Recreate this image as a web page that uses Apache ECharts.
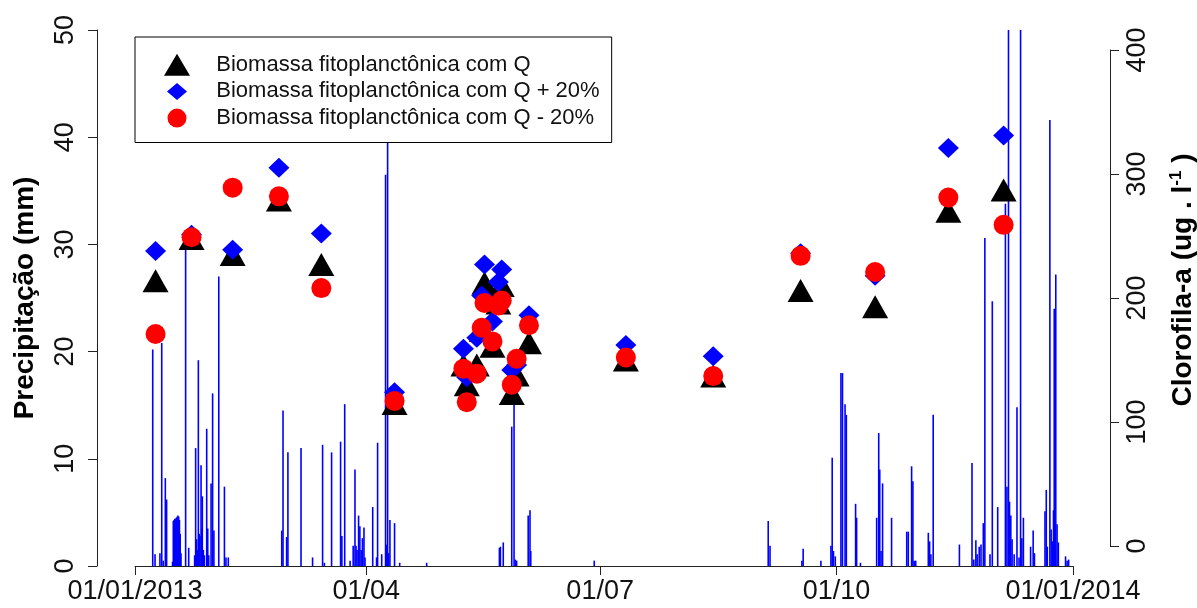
<!DOCTYPE html>
<html><head><meta charset="utf-8">
<script src="https://cdn.jsdelivr.net/npm/echarts@6/dist/echarts.min.js"></script>
<style>html,body{margin:0;padding:0;background:#fff}#c{width:1197px;height:608px}</style>
</head><body><div id="c"></div>
<script>
// x values are days since 01/01/2013
const tickDays = [0, 90, 181, 273, 365];
const tickLabels = ['01/01/2013', '01/04', '01/07', '01/10', '01/01/2014'];
const seriesNames = ['Biomassa fitoplanctônica com Q', 'Biomassa fitoplanctônica com Q + 20%', 'Biomassa fitoplanctônica com Q - 20%'];

// Chlorophyll-a (ug/l) at each sampling day
const sampleDay     = [8, 22, 38, 56, 72.5, 101, 127.8, 129.1, 133.0, 134.9, 136.0, 139.1, 141.4, 142.7, 146.6, 148.5, 153.3, 191, 225, 259, 288, 316.5, 338];
const biomassQ      = [214, 248, 235, 279, 227, 115, 146, 130, 146, 174, 212, 161, 196, 210, 123, 138, 164, 150, 137, 206, 193, 270, 287];
const biomassQplus  = [238, 251, 239, 305, 252, 124, 159, 136, 168, 202, 227, 181, 213, 223, 142, 146, 186, 162, 153, 236, 218, 321, 331];
const biomassQminus = [171, 249, 289, 282, 208, 117, 143, 116, 139, 176, 196, 165, 194, 198, 130, 151, 178, 152, 137, 234, 221, 281, 259];

// Precipitation (mm)
const rainDay = [6.9, 7.8, 9.7, 10.4, 11.0, 11.8, 12.3, 14.6, 14.9, 15.2, 15.5, 15.8, 16.1, 16.4, 16.7, 17.0, 17.3, 17.6, 17.9,
  19.7, 20.9, 23.2, 23.6, 24.0, 24.3, 24.65, 25.0, 25.3, 25.7, 26.0, 26.2, 26.6, 27.0, 27.9, 28.3, 28.7, 29.6, 30.2, 30.7,
  32.6, 34.8, 35.4, 36.3, 57.1, 57.6, 59.0, 59.5, 64.6, 69.1, 73.0, 73.7, 76.5, 80.0, 80.5, 81.6, 83.7, 84.9, 85.6, 86.0,
  86.4, 87.0, 87.5, 88.0, 88.5, 89.1, 89.5, 92.5, 94.0, 94.4, 96.0, 97.5, 97.9, 98.3, 98.7, 99.2, 101.0, 103.0, 113.5,
  141.8, 142.2, 143.3, 146.6, 147.5, 148.0, 148.5, 153.0, 153.7, 154.0, 178.7,
  246.4, 247.1, 259.5, 260.0, 266.9, 270.8, 271.3, 271.8, 272.5, 274.7, 275.3, 276.3, 276.8, 280.4, 280.8, 282.3,
  288.6, 289.4, 289.8, 290.3, 290.9, 294.4, 300.3, 300.9, 302.2, 302.7, 303.2, 303.8, 308.7, 309.2, 309.7, 310.6,
  320.8, 325.7, 326.4, 327.2, 327.7, 328.5, 329.2, 330.1, 330.7, 332.7, 333.6, 335.7, 338.7, 339.3, 339.9, 340.3,
  340.8, 341.3, 342.1, 343.2, 344.0, 344.6, 345.1, 345.7, 348.5, 349.5, 350.0, 354.1, 354.6, 355.0, 356.0, 356.5,
  357.0, 357.4, 357.7, 358.3, 358.8, 359.3, 362.1, 362.7, 363.3];
const rainMm = [20.2, 1.1, 1.2, 20.8, 0.5, 8.2, 6.2, 0.4, 4.2, 4.3, 4.4, 4.4, 4.5, 4.6, 4.7, 4.6, 4.3, 3.0, 1.2,
  30.3, 1.7, 1.0, 11.0, 2.5, 1.5, 19.2, 3.0, 2.8, 9.4, 3.5, 6.5, 1.5, 1.0, 12.8, 3.5, 1.0, 7.7, 16.1, 3.3,
  27.0, 7.4, 0.8, 0.8, 3.3, 14.5, 2.7, 10.6, 11.0, 0.8, 11.3, 0.3, 10.6, 11.6, 2.8, 15.1, 0.5, 1.9, 9.0, 1.9,
  1.5, 4.7, 3.7, 1.5, 2.6, 3.6, 0.8, 5.5, 0.8, 11.5, 1.1, 36.5, 2.0, 44.0, 1.2, 4.3, 4.0, 0.3, 0.3,
  1.7, 1.8, 2.2, 13.0, 16.5, 0.6, 0.5, 4.7, 5.2, 1.4, 0.5,
  4.2, 1.9, 0.5, 1.6, 0.5, 1.9, 10.1, 1.4, 0.9, 18.0, 18.0, 15.1, 14.1, 5.8, 4.5, 0.3,
  4.5, 12.4, 9.0, 1.4, 7.7, 4.5, 3.2, 3.2, 9.3, 7.9, 0.5, 0.5, 3.1, 2.3, 1.1, 14.1,
  2.0, 9.6, 0.6, 2.4, 1.1, 1.8, 2.0, 4.0, 30.6, 1.1, 24.7, 5.5, 33.8, 7.4, 55.0, 6.0,
  4.7, 2.5, 1.1, 14.8, 0.8, 58.0, 2.6, 4.5, 1.8, 3.3, 1.2, 5.1, 7.1, 1.8, 41.6, 3.4,
  2.3, 5.2, 24.0, 27.2, 3.9, 2.2, 0.9, 0.5, 0.6];

const FONT = "'Liberation Sans', Arial, sans-serif";
const AX = '#222';
// legend icon shapes drawn in the left part of a 47.3 x 22 item box
const legendIcons = [
  'path://M0,0ZM47.3,22ZM13,0L26,22L0,22Z',
  'path://M0,0ZM47.3,22ZM13,2.5L23,11L13,19.5L3,11Z',
  'path://M0,0ZM47.3,22ZM13,1.5A9.5,9.5,0,1,1,13,20.5A9.5,9.5,0,1,1,13,1.5Z'
];
const chart = echarts.init(document.getElementById('c'), null, {renderer: 'canvas'});

const pairs = (xs, ys) => xs.map((x, i) => [x, ys[i]]);

chart.setOption({
  animation: false,
  textStyle: {fontFamily: FONT},
  grid: [
    {left: 135, right: 124, top: 30, bottom: 42, outerBoundsMode: 'none', containLabel: false},
    {left: 135, right: 124, top: 50, bottom: 62, outerBoundsMode: 'none', containLabel: false}
  ],
  legend: {
    show: true,
    data: seriesNames.map((n, i) => ({name: n, icon: legendIcons[i]})),
    orient: 'vertical',
    left: 135, top: 37,
    padding: [16.7, 12, 13.4, 29],
    itemWidth: 47.3, itemHeight: 22, itemGap: 4.7,
    symbolKeepAspect: true,
    borderColor: '#000', borderWidth: 1, borderRadius: 0,
    backgroundColor: '#fff',
    selectedMode: false,
    textStyle: {fontFamily: FONT, fontSize: 22, color: '#111', lineHeight: 22}
  },
  xAxis: [
    {
      gridIndex: 0, type: 'value', min: 0, max: 365,
      axisLine: {show: true, onZero: false, lineStyle: {color: AX, width: 1}},
      axisTick: {show: true, inside: false, length: 9, customValues: tickDays, lineStyle: {color: AX}},
      axisLabel: {show: true, customValues: tickDays, margin: 12, fontSize: 27, color: '#111', fontFamily: FONT,
        formatter: v => tickLabels[tickDays.indexOf(v)]},
      splitLine: {show: false}
    },
    {gridIndex: 1, type: 'value', min: 0, max: 365, show: false}
  ],
  yAxis: [
    {
      gridIndex: 0, type: 'value', position: 'left', offset: 38, min: 0, max: 50, interval: 10,
      axisLine: {show: true, onZero: false, lineStyle: {color: AX, width: 1}},
      axisTick: {show: true, inside: false, length: 9, lineStyle: {color: AX}},
      axisLabel: {rotate: 90, margin: 18, fontSize: 27, color: '#111', fontFamily: FONT},
      splitLine: {show: false}, minorTick: {show: false},
      name: 'Precipitação (mm)', nameLocation: 'middle', nameGap: 58, nameRotate: 90, nameMoveOverlap: false,
      nameTextStyle: {fontFamily: FONT, fontSize: 28, fontWeight: 'bold', color: '#000'}
    },
    {
      gridIndex: 1, type: 'value', position: 'right', offset: 37, min: 0, max: 400, interval: 100,
      axisLine: {show: true, onZero: false, lineStyle: {color: AX, width: 1}},
      axisTick: {show: true, inside: false, length: 9, lineStyle: {color: AX}},
      axisLabel: {rotate: 90, margin: 14, fontSize: 27, color: '#111', fontFamily: FONT},
      splitLine: {show: false}, minorTick: {show: false},
      name: 'Clorofila-a (ug . l{sup|-1} )', nameLocation: 'middle', nameGap: 58, nameRotate: 90, nameMoveOverlap: false,
      nameTextStyle: {fontFamily: FONT, fontSize: 28, fontWeight: 'bold', color: '#000', padding: [0, 0, 0, 36],
        rich: {sup: {fontFamily: FONT, fontSize: 17, fontWeight: 'bold', color: '#000', verticalAlign: 'top', padding: [0, 0, 14, 0]}}}
    }
  ],
  series: [
    {
      name: 'Precipitação', type: 'bar', xAxisIndex: 0, yAxisIndex: 0,
      data: pairs(rainDay, rainMm), barWidth: 1.6, clip: true,
      itemStyle: {color: '#0000ff'}, emphasis: {disabled: true}
    },
    {
      name: seriesNames[0], type: 'scatter', xAxisIndex: 1, yAxisIndex: 1,
      data: pairs(sampleDay, biomassQ), symbol: 'triangle', symbolSize: [26, 23],
      itemStyle: {color: '#000000', opacity: 1}, emphasis: {disabled: true}
    },
    {
      name: seriesNames[1], type: 'scatter', xAxisIndex: 1, yAxisIndex: 1,
      data: pairs(sampleDay, biomassQplus), symbol: 'diamond', symbolSize: [21, 20],
      itemStyle: {color: '#0000ff', opacity: 1}, emphasis: {disabled: true}
    },
    {
      name: seriesNames[2], type: 'scatter', xAxisIndex: 1, yAxisIndex: 1,
      data: pairs(sampleDay, biomassQminus), symbol: 'circle', symbolSize: 20,
      itemStyle: {color: '#ff0000', opacity: 1}, emphasis: {disabled: true}
    }
  ]
});
</script></body></html>
